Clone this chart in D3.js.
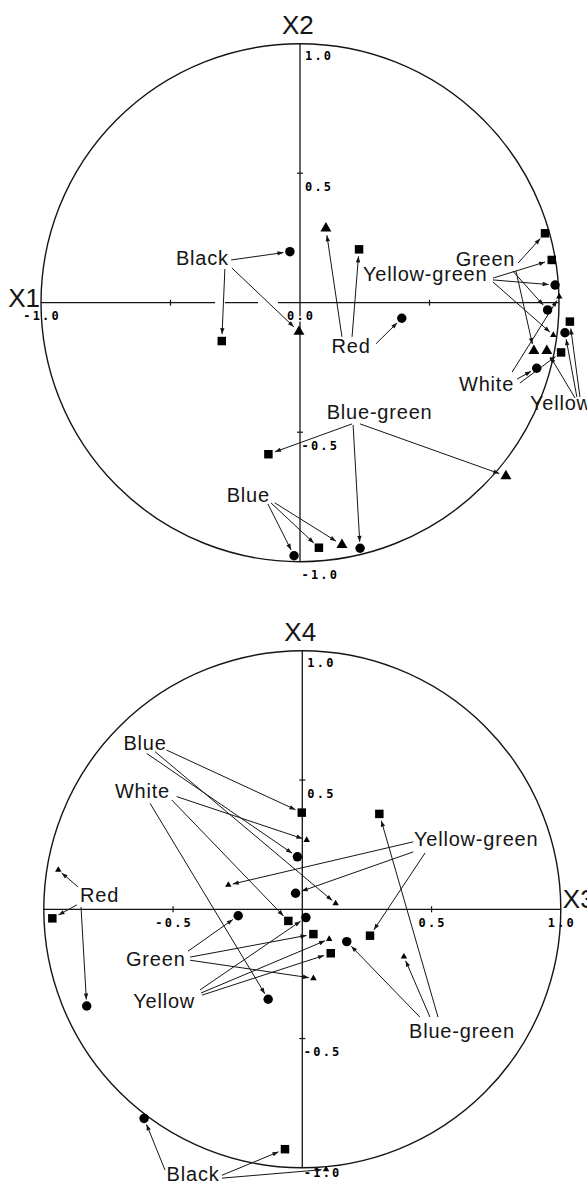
<!DOCTYPE html>
<html>
<head>
<meta charset="utf-8">
<script src="https://cdn.jsdelivr.net/npm/d3@7"></script>
<style>
  body { margin: 0; background: #fff; }
  svg { display: block; }
</style>
</head>
<body>
<div id="chart"></div>
<script>
const width = 587, height = 1186;
const ink = "#151515";

// ---- upper plot: loadings on X1 (horizontal) / X2 (vertical) ----
const pointsTop = [
  { color: "Black", shape: "circle", x: -0.039, y: 0.197 },
  { color: "Black", shape: "square", x: -0.302, y: -0.148 },
  { color: "Black", shape: "triangle", x: -0.004, y: -0.112 },
  { color: "Red", shape: "triangle", x: 0.100, y: 0.287 },
  { color: "Red", shape: "square", x: 0.228, y: 0.206 },
  { color: "Red", shape: "circle", x: 0.393, y: -0.060 },
  { color: "Blue", shape: "circle", x: -0.023, y: -0.977 },
  { color: "Blue", shape: "square", x: 0.073, y: -0.946 },
  { color: "Blue", shape: "triangle", x: 0.162, y: -0.935 },
  { color: "Blue-green", shape: "square", x: -0.122, y: -0.585 },
  { color: "Blue-green", shape: "circle", x: 0.232, y: -0.948 },
  { color: "Blue-green", shape: "triangle", x: 0.795, y: -0.669 },
  { color: "Green", shape: "square", x: 0.946, y: 0.268 },
  { color: "Green", shape: "circle", x: 0.956, y: -0.028 },
  { color: "Green", shape: "triangle", x: 0.903, y: -0.186 },
  { color: "Yellow-green", shape: "square", x: 0.972, y: 0.165 },
  { color: "Yellow-green", shape: "circle", x: 0.985, y: 0.068 },
  { color: "Yellow-green", shape: "small", x: 0.978, y: -0.125 },
  { color: "White", shape: "circle", x: 0.914, y: -0.253 },
  { color: "White", shape: "square", x: 1.008, y: -0.192 },
  { color: "White", shape: "small", x: 1.001, y: 0.023 },
  { color: "Yellow", shape: "square", x: 1.042, y: -0.073 },
  { color: "Yellow", shape: "circle", x: 1.023, y: -0.116 },
  { color: "Yellow", shape: "triangle", x: 0.953, y: -0.186 }
];
// where each leader arrow starts (same order as pointsTop)
const leadersTop = [
  [-0.266, 0.165], [-0.290, 0.130], [-0.263, 0.134],
  [0.162, -0.132], [0.201, -0.132], [0.293, -0.159],
  [-0.124, -0.777], [-0.112, -0.773], [-0.097, -0.773],
  [0.201, -0.468], [0.205, -0.472], [0.232, -0.468],
  [0.842, 0.153], [0.822, 0.122], [0.834, 0.122],
  [0.745, 0.095], [0.745, 0.088], [0.745, 0.080],
  [0.838, -0.295], [0.849, -0.310], [0.819, -0.268],
  [1.081, -0.364], [1.069, -0.364], [1.062, -0.368]
];
const labelsTop = [
  { text: "Black", x: -0.479, y: 0.146 },
  { text: "Red", x: 0.122, y: -0.193 },
  { text: "Blue-green", x: 0.103, y: -0.450 },
  { text: "Blue", x: -0.283, y: -0.768 },
  { text: "Green", x: 0.601, y: 0.140 },
  { text: "Yellow-green", x: 0.243, y: 0.082 },
  { text: "White", x: 0.614, y: -0.340 },
  { text: "Yellow", x: 0.888, y: -0.414 }
];
const xTickLabelsTop = [-1, 0];
const yTickLabelsTop = [1, 0.5, -0.5, -1];
const hAxisTop = [[-1, -0.328], [-0.290, -0.162], [-0.085, 1]];

// ---- lower plot: loadings on X3 (horizontal) / X4 (vertical) ----
const pointsBottom = [
  { color: "Blue", shape: "square", x: -0.002, y: 0.374 },
  { color: "Blue", shape: "circle", x: -0.019, y: 0.203 },
  { color: "Blue", shape: "small", x: 0.129, y: 0.023 },
  { color: "White", shape: "small", x: 0.017, y: 0.268 },
  { color: "White", shape: "square", x: -0.054, y: -0.045 },
  { color: "White", shape: "circle", x: -0.132, y: -0.348 },
  { color: "Yellow-green", shape: "small", x: -0.286, y: 0.094 },
  { color: "Yellow-green", shape: "circle", x: -0.026, y: 0.062 },
  { color: "Yellow-green", shape: "square", x: 0.262, y: -0.102 },
  { color: "Red", shape: "small", x: -0.944, y: 0.152 },
  { color: "Red", shape: "square", x: -0.967, y: -0.035 },
  { color: "Red", shape: "circle", x: -0.834, y: -0.374 },
  { color: "Green", shape: "circle", x: -0.248, y: -0.025 },
  { color: "Green", shape: "square", x: 0.043, y: -0.096 },
  { color: "Green", shape: "small", x: 0.043, y: -0.267 },
  { color: "Yellow", shape: "circle", x: 0.014, y: -0.032 },
  { color: "Yellow", shape: "small", x: 0.104, y: -0.115 },
  { color: "Yellow", shape: "square", x: 0.110, y: -0.170 },
  { color: "Blue-green", shape: "circle", x: 0.172, y: -0.125 },
  { color: "Blue-green", shape: "small", x: 0.393, y: -0.183 },
  { color: "Blue-green", shape: "square", x: 0.298, y: 0.369 },
  { color: "Black", shape: "circle", x: -0.612, y: -0.809 },
  { color: "Black", shape: "square", x: -0.067, y: -0.928 },
  { color: "Black", shape: "small", x: 0.092, y: -1.006 }
];
const leadersBottom = [
  [-0.525, 0.616], [-0.602, 0.603], [-0.570, 0.610],
  [-0.486, 0.436], [-0.505, 0.423], [-0.589, 0.410],
  [0.429, 0.261], [0.429, 0.222], [0.475, 0.218],
  [-0.868, 0.087], [-0.872, 0.017], [-0.856, 0.009],
  [-0.442, -0.162], [-0.434, -0.185], [-0.434, -0.197],
  [-0.396, -0.312], [-0.392, -0.324], [-0.388, -0.332],
  [0.455, -0.417], [0.494, -0.417], [0.525, -0.417],
  [-0.531, -1.009], [-0.311, -1.029], [-0.311, -1.040]
];
const labelsBottom = [
  { text: "Blue", x: -0.692, y: 0.616 },
  { text: "White", x: -0.725, y: 0.429 },
  { text: "Red", x: -0.860, y: 0.029 },
  { text: "Green", x: -0.682, y: -0.219 },
  { text: "Yellow", x: -0.654, y: -0.383 },
  { text: "Black", x: -0.525, y: -1.052 },
  { text: "Yellow-green", x: 0.432, y: 0.246 },
  { text: "Blue-green", x: 0.413, y: -0.499 }
];
const xTickLabelsBottom = [-0.5, 0.5, 1];
const yTickLabelsBottom = [1, 0.5, -0.5, -1];
const hAxisBottom = [[-1, 1]];

const tickMarks = [-0.5, 0.5];

const symbols = {
  circle: d3.symbol().type(d3.symbolCircle).size(70),
  square: d3.symbol().type(d3.symbolSquare).size(72),
  triangle: d3.symbol().type(d3.symbolTriangle).size(52),
  small: d3.symbol().type(d3.symbolTriangle).size(18)
};
const gap = { circle: 6.5, square: 7, triangle: 7, small: 4.5 };

const fmt = v => d3.format(".1f")(v).replace("\u2212", "-");

const svg = d3.select("#chart")
  .append("svg")
  .attr("width", width)
  .attr("height", height)
  .attr("viewBox", `0 0 ${width} ${height}`);

svg.append("defs").append("marker")
  .attr("id", "head")
  .attr("viewBox", "-7 -3 8 6")
  .attr("refX", 0)
  .attr("refY", 0)
  .attr("markerWidth", 8)
  .attr("markerHeight", 6)
  .attr("markerUnits", "userSpaceOnUse")
  .attr("orient", "auto")
  .append("path")
  .attr("d", "M-6,-2.2L0,0L-6,2.2Z")
  .attr("fill", ink);

const drawBiplot = (cfg) => {
  const g = svg.append("g");
  const xScale = d3.scaleLinear().domain([-1, 1]).range([cfg.cx - cfg.r, cfg.cx + cfg.r]);
  const yScale = d3.scaleLinear().domain([-1, 1]).range([cfg.cy + cfg.r, cfg.cy - cfg.r]);

  // axes
  g.selectAll(".h-axis")
    .data(cfg.hAxis)
    .join("line")
    .attr("class", "h-axis")
    .attr("x1", d => xScale(d[0]))
    .attr("x2", d => xScale(d[1]))
    .attr("y1", yScale(0))
    .attr("y2", yScale(0))
    .attr("stroke", ink)
    .attr("stroke-width", 1.3);

  g.append("line")
    .attr("x1", xScale(0)).attr("x2", xScale(0))
    .attr("y1", yScale(1)).attr("y2", yScale(-1))
    .attr("stroke", ink)
    .attr("stroke-width", 1.3);

  g.selectAll(".x-tick")
    .data(tickMarks)
    .join("line")
    .attr("x1", d => xScale(d)).attr("x2", d => xScale(d))
    .attr("y1", yScale(0) - 3).attr("y2", yScale(0) + 3)
    .attr("stroke", ink)
    .attr("stroke-width", 1.2);

  g.selectAll(".y-tick")
    .data(tickMarks)
    .join("line")
    .attr("y1", d => yScale(d)).attr("y2", d => yScale(d))
    .attr("x1", xScale(0) - 3).attr("x2", xScale(0) + 3)
    .attr("stroke", ink)
    .attr("stroke-width", 1.2);

  // tick labels (white halo so the axis breaks behind them)
  const tickText = sel => sel
    .attr("font-family", "'DejaVu Sans Mono', 'Liberation Mono', monospace")
    .attr("font-weight", "bold")
    .attr("font-size", 12)
    .attr("letter-spacing", 2.2)
    .attr("fill", "#000")
    .attr("stroke", "#fff")
    .attr("stroke-width", 3)
    .attr("paint-order", "stroke")
    .text(d => fmt(d));

  g.selectAll(".x-tick-label")
    .data(cfg.xTickLabels)
    .join("text")
    .attr("x", d => xScale(d) + 1.1)
    .attr("y", yScale(0) + 17.5)
    .attr("text-anchor", "middle")
    .call(tickText);

  g.selectAll(".y-tick-label")
    .data(cfg.yTickLabels)
    .join("text")
    .attr("x", d => xScale(0) + (d < 0 ? 1.5 : 5))
    .attr("y", d => yScale(d) + (d === 1 ? 16 : d === -1 ? cfg.bottomDy : 17.5))
    .call(tickText);

  // unit circle
  g.append("circle")
    .attr("cx", xScale(0))
    .attr("cy", yScale(0))
    .attr("r", xScale(1) - xScale(0))
    .attr("fill", "none")
    .attr("stroke", ink)
    .attr("stroke-width", 1.4);

  // leader arrows
  g.selectAll(".leader")
    .data(cfg.points)
    .join("line")
    .attr("class", "leader")
    .each(function (d, i) {
      const sx = xScale(cfg.leaders[i][0]), sy = yScale(cfg.leaders[i][1]);
      const tx = xScale(d.x), ty = yScale(d.y);
      const len = Math.hypot(tx - sx, ty - sy);
      const k = (len - gap[d.shape]) / len;
      d3.select(this)
        .attr("x1", sx).attr("y1", sy)
        .attr("x2", sx + (tx - sx) * k)
        .attr("y2", sy + (ty - sy) * k);
    })
    .attr("stroke", ink)
    .attr("stroke-width", 1)
    .attr("marker-end", "url(#head)");

  // loading markers
  g.selectAll(".pt")
    .data(cfg.points)
    .join("path")
    .attr("class", "pt")
    .attr("transform", d => `translate(${xScale(d.x)}, ${yScale(d.y)})`)
    .attr("d", d => symbols[d.shape]())
    .attr("fill", "#000");

  // colour labels
  g.selectAll(".lab")
    .data(cfg.labels)
    .join("text")
    .attr("class", "lab")
    .attr("x", d => xScale(d.x))
    .attr("y", d => yScale(d.y))
    .attr("font-family", "'Liberation Sans', Arial, sans-serif")
    .attr("font-size", 20)
    .attr("letter-spacing", 0.8)
    .attr("fill", ink)
    .text(d => d.text);

  // axis titles
  const title = (text, x, y, anchor) => g.append("text")
    .attr("x", x).attr("y", y)
    .attr("text-anchor", anchor)
    .attr("font-family", "'Liberation Sans', Arial, sans-serif")
    .attr("font-size", 26)
    .attr("fill", ink)
    .text(text);

  title(cfg.vTitle, xScale(0) - 18, yScale(1) - 10, "start");
  if (cfg.hTitleSide === "left") {
    title(cfg.hTitle, xScale(-1) - 1, yScale(0) + 4, "end");
  } else {
    title(cfg.hTitle, xScale(1) + 2, yScale(0) - 1, "start");
  }
};

drawBiplot({
  cx: 300, cy: 302.7, r: 259,
  points: pointsTop, leaders: leadersTop, labels: labelsTop,
  xTickLabels: xTickLabelsTop, yTickLabels: yTickLabelsTop,
  hAxis: hAxisTop, bottomDy: 17.3,
  vTitle: "X2", hTitle: "X1", hTitleSide: "left"
});

drawBiplot({
  cx: 302.3, cy: 909.3, r: 258.5,
  points: pointsBottom, leaders: leadersBottom, labels: labelsBottom,
  xTickLabels: xTickLabelsBottom, yTickLabels: yTickLabelsBottom,
  hAxis: hAxisBottom, bottomDy: 9.5,
  vTitle: "X4", hTitle: "X3", hTitleSide: "right"
});
</script>
</body>
</html>
